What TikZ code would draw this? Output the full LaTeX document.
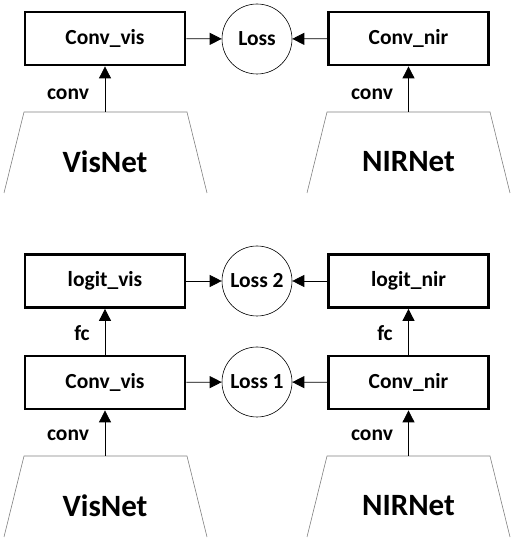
\documentclass[tikz,border=0pt]{standalone}
\usepackage{fontspec}
\setmainfont{Carlito}
\usetikzlibrary{positioning}
\usetikzlibrary{arrows.meta}

\begin{document}
\begin{tikzpicture}[x=1pt,y=1pt,
    netbox/.style={draw, rectangle, line width=2.8pt, minimum width=160pt, minimum height=53pt, inner sep=0pt, font=\fontsize{21.5}{25}\selectfont\bfseries},
    lossnode/.style={draw, circle, line width=0.6pt, minimum size=70pt, inner sep=0pt, font=\fontsize{21.5}{25}\selectfont\bfseries},
    lbl/.style={font=\fontsize{21.5}{25}\selectfont\bfseries},
    netname/.style={font=\fontsize{31}{36}\selectfont\bfseries},
    trap/.style={draw=gray, line width=0.6pt},
    arr/.style={-{Triangle[length=12pt,width=12pt]}, line width=0.8pt}]
    \useasboundingbox (0,0) rectangle (517,549);

    % upper diagram
    \node[netbox] (convvisA) at (105,510.5) {Conv\_vis};
    \node[netbox] (convnirA) at (408.5,510.5) {Conv\_nir};
    \node[lossnode] (lossA) at (257,510) {Loss};
    \draw[trap] (4,356) -- (24,437) -- (187,437) -- (207,356);
    \draw[trap] (307,356) -- (327,437) -- (490,437) -- (510,356);
    \coordinate (vistopA) at (105,437);
    \coordinate (nirtopA) at (408.5,437);
    \node[netname] (visnetA) at (105,387) {VisNet};
    \node[netname] (nirnetA) at (408.5,387) {NIRNet};
    \node[lbl] (convlblA) at (68,455) {conv};
    \node[lbl] (convlblB) at (372,455) {conv};

    \draw[arr] (vistopA) -- (convvisA);
    \draw[arr] (nirtopA) -- (convnirA);
    \draw[arr] (convvisA) -- (lossA);
    \draw[arr] (convnirA) -- (lossA);

    % lower diagram
    \node[netbox] (logitvis) at (105,268) {logit\_vis};
    \node[netbox] (logitnir) at (408.5,268) {logit\_nir};
    \node[netbox] (convvisB) at (105,166.5) {Conv\_vis};
    \node[netbox] (convnirB) at (408.5,166.5) {Conv\_nir};
    \node[lossnode] (losstwo) at (257,268) {Loss 2};
    \node[lossnode] (lossone) at (257,167) {Loss 1};
    \draw[trap] (4,12) -- (24,93) -- (187,93) -- (207,12);
    \draw[trap] (307,12) -- (327,93) -- (490,93) -- (510,12);
    \coordinate (vistopB) at (105,93);
    \coordinate (nirtopB) at (408.5,93);
    \node[netname] (visnetB) at (105,43) {VisNet};
    \node[netname] (nirnetB) at (408.5,43) {NIRNet};
    \node[lbl] (fclblA) at (82,216) {fc};
    \node[lbl] (fclblB) at (385,216) {fc};
    \node[lbl] (convlblC) at (68,114) {conv};
    \node[lbl] (convlblD) at (372,114) {conv};

    \draw[arr] (vistopB) -- (convvisB);
    \draw[arr] (nirtopB) -- (convnirB);
    \draw[arr] (convvisB) -- (logitvis);
    \draw[arr] (convnirB) -- (logitnir);
    \draw[arr] (logitvis) -- (losstwo);
    \draw[arr] (logitnir) -- (losstwo);
    \draw[arr] (convvisB) -- (lossone);
    \draw[arr] (convnirB) -- (lossone);
\end{tikzpicture}
\end{document}
